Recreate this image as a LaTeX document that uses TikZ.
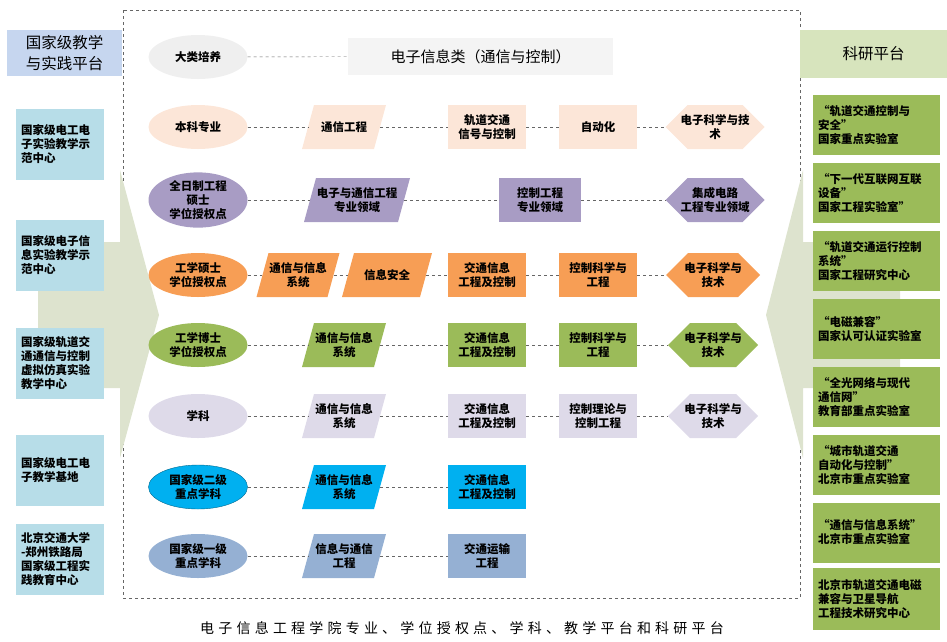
\documentclass[tikz,border=0pt]{standalone}
\usepackage{fontspec}
\setmainfont{Noto Sans CJK SC}
\usetikzlibrary{calc}
\definecolor{cDalei}{HTML}{EFEFEF}
\definecolor{cBenke}{HTML}{FCE6D8}
\definecolor{cQuanri}{HTML}{A89CC4}
\definecolor{cShuoshi}{HTML}{F79E55}
\definecolor{cBoshi}{HTML}{9BBB59}
\definecolor{cXueke}{HTML}{DEDAE9}
\definecolor{cErji}{HTML}{00B0F0}
\definecolor{cYiji}{HTML}{95B0D3}
\definecolor{cJiaoxue}{HTML}{B7DDE8}
\definecolor{cJiaoHead}{HTML}{C6D6EF}
\definecolor{cKeyan}{HTML}{D7E4BD}
\definecolor{cArrow}{HTML}{DDE3CE}
\tikzset{
  txt/.style={font=\bfseries\fontsize{11.5}{14}\selectfont, align=center, inner sep=0pt},
  ell/.style={ellipse shape, minimum width=99pt, minimum height=44pt},
  lnk/.style={dashed, gray!80!black, thin},
  leftbox/.style={fill=cJiaoxue, minimum width=88pt, minimum height=71pt, txt, text width=78pt, align=left},
  rightbox/.style={fill=cBoshi, minimum width=127pt, minimum height=60pt, txt, text width=117pt, align=left},
}
\tikzset{ellipse shape/.style={shape=ellipse}}
\usetikzlibrary{shapes.geometric}
% parallelogram: name, cx, cy, width, fill, text
\newcommand\parabox[6]{%
  \fill[#5] (#2-#4/2+6,#3-22) -- (#2+#4/2+6,#3-22) -- (#2+#4/2-6,#3+22) -- (#2-#4/2-6,#3+22) -- cycle;
  \node[txt, minimum width=#4pt, minimum height=44pt] (#1) at (#2,#3) {#6};}
% rectangle
\newcommand\rectbox[6]{%
  \node[txt, fill=#5, minimum width=#4pt, minimum height=44pt] (#1) at (#2,#3) {#6};}
% hexagon
\newcommand\hexbox[6]{%
  \fill[#5] (#2-#4/2,#3) -- (#2-#4/2+22,#3-22) -- (#2+#4/2-22,#3-22) -- (#2+#4/2,#3) -- (#2+#4/2-22,#3+22) -- (#2-#4/2+22,#3+22) -- cycle;
  \node[txt, minimum width=#4pt, minimum height=44pt] (#1) at (#2,#3) {#6};}
\begin{document}
\begin{tikzpicture}[x=1pt, y=-1pt]
\useasboundingbox (0,0) rectangle (947,641);
% frame
\draw[lnk] (123,10) rectangle (800,598);
% big arrows
\fill[cArrow] (38,242) -- (120,242) -- (120,170) -- (159,315) -- (120,458) -- (120,388) -- (38,388) -- cycle;
\fill[cArrow] (900,242) -- (803,242) -- (803,170) -- (766,315) -- (803,458) -- (803,388) -- (900,388) -- cycle;

% headers
\node[fill=cJiaoHead, minimum width=115pt, minimum height=46pt, align=left, font=\fontsize{15.5}{21}\selectfont, inner sep=0pt] (jxHead) at (64.5,53) {国家级教学\\与实践平台};
\node[fill=cKeyan, minimum width=147pt, minimum height=48pt, font=\fontsize{15.5}{18}\selectfont] (kyHead) at (873.5,54) {科研平台};

% left platforms
\node[leftbox] (jx1) at (60,144.5) {国家级电工电\\子实验教学示\\范中心};
\node[leftbox] (jx2) at (60,255.5) {国家级电子信\\息实验教学示\\范中心};
\node[leftbox] (jx3) at (60,363) {国家级轨道交\\通通信与控制\\虚拟仿真实验\\教学中心};
\node[leftbox] (jx4) at (60,470) {国家级电工电\\子教学基地};
\node[leftbox] (jx5) at (60,559.5) {北京交通大学\\-郑州铁路局\\国家级工程实\\践教育中心};

% right platforms
\node[rightbox] (ky1) at (876.5,125) {“轨道交通控制与\\安全”\\国家重点实验室};
\node[rightbox] (ky2) at (876.5,193) {“下一代互联网互联\\设备”\\国家工程实验室”};
\node[rightbox] (ky3) at (876.5,261) {“轨道交通运行控制\\系统”\\国家工程研究中心};
\node[rightbox] (ky4) at (876.5,329) {“电磁兼容”\\国家认可认证实验室};
\node[rightbox] (ky5) at (876.5,397) {“全光网络与现代\\通信网”\\教育部重点实验室};
\node[rightbox] (ky6) at (876.5,465) {“城市轨道交通\\自动化与控制”\\北京市重点实验室};
\node[rightbox] (ky7) at (876.5,532.5) {“通信与信息系统”\\北京市重点实验室};
\node[rightbox, minimum height=62pt] (ky8) at (876.5,599) {北京市轨道交通电磁\\兼容与卫星导航\\工程技术研究中心};

% row 1
\node[ell, fill=cDalei, txt] (dalei) at (198,57) {大类培养};
\node[fill=cDalei!70!white, minimum width=265pt, minimum height=37pt, font=\fontsize{15}{18}\selectfont] (dianzi) at (480.5,56.5) {电子信息类（通信与控制）};
\draw[lnk] (dalei) -- (dianzi);

% row 2
\node[ell, fill=cBenke, txt] (benke) at (198,127) {本科专业};
\parabox{bkA}{344}{127}{72}{cBenke}{通信工程}
\rectbox{bkB}{487}{127}{78}{cBenke}{轨道交通\\信号与控制}
\rectbox{bkC}{598}{127}{78}{cBenke}{自动化}
\hexbox{bkD}{715}{127}{99}{cBenke}{电子科学与技\\术}
\draw[lnk] (benke) -- (bkA) -- (bkB) -- (bkC) -- (bkD);

% row 3
\node[ell, fill=cQuanri, txt] (quanri) at (198,200) {全日制工程\\硕士\\学位授权点};
\parabox{qrA}{357}{200}{94}{cQuanri}{电子与通信工程\\专业领域}
\rectbox{qrB}{540}{200}{82}{cQuanri}{控制工程\\专业领域}
\hexbox{qrC}{715}{200}{99}{cQuanri}{集成电路\\工程专业领域}
\draw[lnk] (quanri) -- (qrA) -- (qrB) -- (qrC);

% row 4
\node[ell, fill=cShuoshi, txt] (shuoshi) at (198,275) {工学硕士\\学位授权点};
\parabox{ssA}{298}{275}{71}{cShuoshi}{通信与信息\\系统}
\parabox{ssB}{387}{275}{78}{cShuoshi}{信息安全}
\rectbox{ssC}{487}{275}{78}{cShuoshi}{交通信息\\工程及控制}
\rectbox{ssD}{598}{275}{78}{cShuoshi}{控制科学与\\工程}
\hexbox{ssE}{713}{275}{94}{cShuoshi}{电子科学与\\技术}
\draw[lnk] (shuoshi) -- (ssA) -- (ssB) -- (ssC) -- (ssD) -- (ssE);

% row 5
\node[ell, fill=cBoshi, txt] (boshi) at (198,345) {工学博士\\学位授权点};
\parabox{bsA}{344}{345}{72}{cBoshi}{通信与信息\\系统}
\rectbox{bsB}{487}{345}{78}{cBoshi}{交通信息\\工程及控制}
\rectbox{bsC}{598}{345}{78}{cBoshi}{控制科学与\\工程}
\hexbox{bsD}{713}{345}{90}{cBoshi}{电子科学与\\技术}
\draw[lnk] (boshi) -- (bsA) -- (bsB) -- (bsC) -- (bsD);

% row 6
\node[ell, fill=cXueke, txt] (xueke) at (198,416) {学科};
\parabox{xkA}{344}{416}{72}{cXueke}{通信与信息\\系统}
\rectbox{xkB}{487}{416}{78}{cXueke}{交通信息\\工程及控制}
\rectbox{xkC}{598}{416}{78}{cXueke}{控制理论与\\控制工程}
\hexbox{xkD}{713}{416}{90}{cXueke}{电子科学与\\技术}
\draw[lnk] (xueke) -- (xkA) -- (xkB) -- (xkC) -- (xkD);

% row 7
\node[ell, fill=cErji, draw=cErji!60!black, thin, txt] (erji) at (198,487) {国家级二级\\重点学科};
\parabox{ejA}{344}{487}{72}{cErji}{通信与信息\\系统}
\rectbox{ejB}{487}{487}{78}{cErji}{交通信息\\工程及控制}
\draw[lnk] (erji) -- (ejA) -- (ejB);

% row 8
\node[ell, fill=cYiji, txt] (yiji) at (198,556) {国家级一级\\重点学科};
\parabox{yjA}{344}{556}{72}{cYiji}{信息与通信\\工程}
\rectbox{yjB}{487}{556}{78}{cYiji}{交通运输\\工程}
\draw[lnk] (yiji) -- (yjA) -- (yjB);

% caption
\node[font=\fontsize{14}{16}\selectfont\addfontfeature{LetterSpace=30}] (caption) at (462,628) {电子信息工程学院专业、学位授权点、学科、教学平台和科研平台};
\end{tikzpicture}
\end{document}
